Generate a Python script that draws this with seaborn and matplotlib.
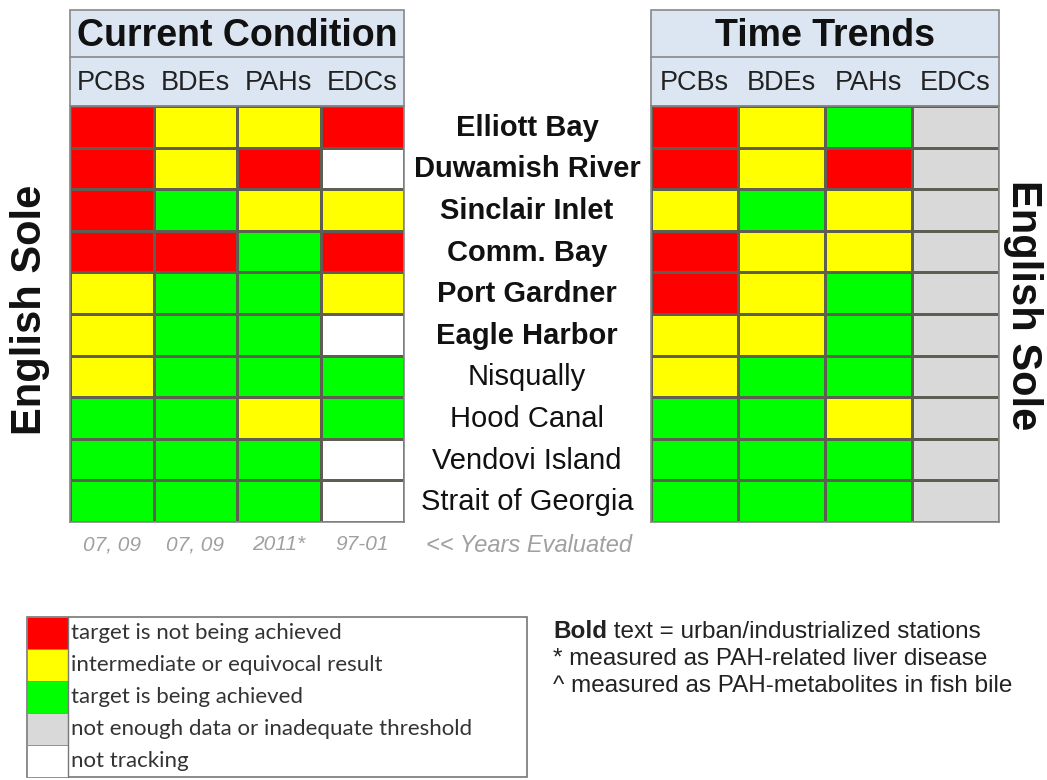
import numpy as np
import pandas as pd
import matplotlib
matplotlib.use("Agg")
import matplotlib.pyplot as plt
from matplotlib.colors import ListedColormap
from matplotlib.patches import Rectangle
import seaborn as sns

sns.set_theme(style="white")
plt.rcParams["font.family"] = ["Liberation Sans", "DejaVu Sans"]

# ---- data ----
stations = ["Elliott Bay", "Duwamish River", "Sinclair Inlet", "Comm. Bay",
            "Port Gardner", "Eagle Harbor", "Nisqually", "Hood Canal",
            "Vendovi Island", "Strait of Georgia"]
urban = [True, True, True, True, True, True, False, False, False, False]
contaminants = ["PCBs", "BDEs", "PAHs", "EDCs"]
years_evaluated = ["07, 09", "07, 09", "2011*", "97-01"]

# R = not achieved, Y = intermediate, G = achieved, N = not enough data, W = not tracking
current_condition = [
    ["R", "Y", "Y", "R"],
    ["R", "Y", "R", "W"],
    ["R", "G", "Y", "Y"],
    ["R", "R", "G", "R"],
    ["Y", "G", "G", "Y"],
    ["Y", "G", "G", "W"],
    ["Y", "G", "G", "G"],
    ["G", "G", "Y", "G"],
    ["G", "G", "G", "W"],
    ["G", "G", "G", "W"],
]
time_trends = [
    ["R", "Y", "G", "N"],
    ["R", "Y", "R", "N"],
    ["Y", "G", "Y", "N"],
    ["R", "Y", "Y", "N"],
    ["R", "Y", "G", "N"],
    ["Y", "Y", "G", "N"],
    ["Y", "G", "G", "N"],
    ["G", "G", "Y", "N"],
    ["G", "G", "G", "N"],
    ["G", "G", "G", "N"],
]

status_codes = ["R", "Y", "G", "N", "W"]
status_colors = ["#ff0000", "#ffff00", "#00ff00", "#d9d9d9", "#ffffff"]
status_labels = ["target is not being achieved",
                 "intermediate or equivocal result",
                 "target is being achieved",
                 "not enough data or inadequate threshold",
                 "not tracking"]

notes = ["* measured as PAH-related liver disease",
         "^ measured as PAH-metabolites in fish bile"]

# ---- layout (pixels) ----
W, H = 1047, 780
fig = plt.figure(figsize=(W / 100, H / 100), dpi=100)
fig.patch.set_facecolor("white")


def px_rect(x0, y0, x1, y1):
    return [x0 / W, 1 - y1 / H, (x1 - x0) / W, (y1 - y0) / H]


overlay = fig.add_axes([0, 0, 1, 1])
overlay.set_xlim(0, W)
overlay.set_ylim(H, 0)
overlay.axis("off")

cmap = ListedColormap(status_colors)
code_idx = {c: i for i, c in enumerate(status_codes)}
grid_top, grid_bot, head_top, head_mid = 106, 522, 10, 57
edge = "#5e5e52"


def panel(x0, x1, data, title):
    df = pd.DataFrame([[code_idx[v] for v in row] for row in data],
                      index=stations, columns=contaminants)
    ax = fig.add_axes(px_rect(x0, grid_top, x1, grid_bot))
    sns.heatmap(df, ax=ax, cmap=cmap, vmin=-0.5, vmax=len(status_codes) - 0.5,
                cbar=False, linewidths=0.9, linecolor=edge,
                xticklabels=False, yticklabels=False)
    ax.set_xlabel("")
    ax.set_ylabel("")
    for s in ax.spines.values():
        s.set_visible(True)
        s.set_color("#888888")
        s.set_linewidth(1.2)
    # header box
    overlay.add_patch(Rectangle((x0, head_top), x1 - x0, grid_top - head_top,
                                facecolor="#dce6f2", edgecolor="#888888", lw=1.2))
    overlay.plot([x0, x1], [head_mid, head_mid], color="#888888", lw=1.2)
    overlay.text((x0 + x1) / 2, (head_top + head_mid) / 2 + 2, title,
                 ha="center", va="center", fontsize=27, fontweight="bold", color="#111111")
    cw = (x1 - x0) / len(contaminants)
    for i, c in enumerate(contaminants):
        overlay.text(x0 + cw * (i + 0.5), (head_mid + grid_top) / 2 + 1, c,
                     ha="center", va="center", fontsize=19.5, color="#222222")
    return cw


lx0, lx1 = 70, 404
rx0, rx1 = 651, 999
cw = panel(lx0, lx1, current_condition, "Current Condition")
panel(rx0, rx1, time_trends, "Time Trends")

# station names
rh = (grid_bot - grid_top) / len(stations)
for i, (name, bold) in enumerate(zip(stations, urban)):
    overlay.text(527, grid_top + rh * (i + 0.5) + 1, name, ha="center", va="center",
                 fontsize=21, fontweight="bold" if bold else "normal", color="#111111")

# species labels
overlay.text(30, 310, "English Sole", rotation=90, ha="center", va="center",
             fontsize=30, fontweight="bold", color="#111111")
overlay.text(1023, 305, "English Sole", rotation=-90, ha="center", va="center",
             fontsize=30, fontweight="bold", color="#111111")

# years evaluated
for i, yr in enumerate(years_evaluated):
    overlay.text(lx0 + cw * (i + 0.5), 545, yr, ha="center", va="center",
                 fontsize=15, style="italic", color="#a0a0a0")
overlay.text(426, 545, "<< Years Evaluated", ha="left", va="center",
             fontsize=17, style="italic", color="#a0a0a0")

# legend box
lg_x0, lg_x1, lg_y0, lg_y1 = 27, 527, 617, 777
sw = (lg_y1 - lg_y0) / len(status_codes)
overlay.add_patch(Rectangle((lg_x0, lg_y0), lg_x1 - lg_x0, lg_y1 - lg_y0,
                            facecolor="white", edgecolor="#777777", lw=1.2))
for i, (col, lab) in enumerate(zip(status_colors, status_labels)):
    overlay.add_patch(Rectangle((lg_x0, lg_y0 + i * sw), 41, sw,
                                facecolor=col, edgecolor="#888888", lw=0.6))
    overlay.text(71, lg_y0 + (i + 0.5) * sw, lab, ha="left", va="center",
                 fontsize=16, color="#333333", family=["Lato", "DejaVu Sans"])
overlay.plot([lg_x0 + 41, lg_x0 + 41], [lg_y0, lg_y1], color="#777777", lw=1)

# notes
t = overlay.text(553, 632, "Bold", ha="left", va="center", fontsize=17.5,
                 fontweight="bold", color="#222222")
overlay.annotate(" text = urban/industrialized stations", xy=(1, 0), xycoords=t,
                 ha="left", va="bottom", fontsize=17.5, color="#222222")
for i, n in enumerate(notes):
    overlay.text(553, 659 + i * 27, n, ha="left", va="center", fontsize=17.5,
                 color="#222222")

fig.savefig("out.png", dpi=100)
